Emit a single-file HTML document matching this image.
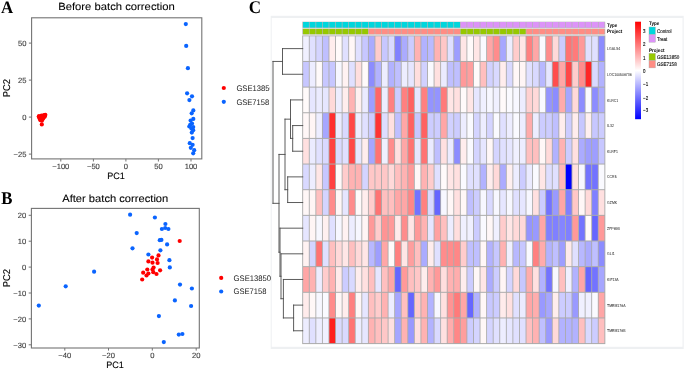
<!DOCTYPE html>
<html><head><meta charset="utf-8"><title>Batch correction figure</title>
<style>
html,body{margin:0;padding:0;background:#fff;}
body{width:685px;height:370px;overflow:hidden;}
svg{display:block;filter:blur(0.3px);}
text{text-rendering:geometricPrecision;}
</style></head>
<body>
<svg width="685" height="370" viewBox="0 0 685 370">
<rect width="685" height="370" fill="#fff"/>
<defs><clipPath id="clipA"><rect x="0" y="0" width="270.0" height="370"/></clipPath></defs>
<rect x="270.7" y="15.8" width="413.0" height="333.2" fill="#eef0f2"/>
<rect x="271.7" y="18.0" width="410.8" height="328.8" fill="#ffffff"/>
<text x="0.90" y="12.60" font-family='"Liberation Serif", serif' font-size="17.6" fill="#000" text-anchor="start" font-weight="bold" textLength="12.20" lengthAdjust="spacingAndGlyphs" >A</text>
<text x="58.20" y="10.40" font-family='"Liberation Sans", sans-serif' font-size="10.4" fill="#000" text-anchor="start" font-weight="normal" textLength="116.50" lengthAdjust="spacingAndGlyphs" stroke="#000" stroke-width="0.08">Before batch correction</text>
<rect x="31.6" y="17.8" width="170.20" height="141.10" fill="none" stroke="#737373" stroke-width="1.1"/>
<line x1="28.9" y1="43.1" x2="31.6" y2="43.1" stroke="#737373" stroke-width="1"/>
<text x="26.40" y="45.85" font-family='"Liberation Sans", sans-serif' font-size="7.6" fill="#3c3c3c" text-anchor="end" font-weight="normal"  stroke="#3c3c3c" stroke-width="0.12">50</text>
<line x1="28.9" y1="80.1" x2="31.6" y2="80.1" stroke="#737373" stroke-width="1"/>
<text x="26.40" y="82.85" font-family='"Liberation Sans", sans-serif' font-size="7.6" fill="#3c3c3c" text-anchor="end" font-weight="normal"  stroke="#3c3c3c" stroke-width="0.12">25</text>
<line x1="28.9" y1="117.1" x2="31.6" y2="117.1" stroke="#737373" stroke-width="1"/>
<text x="26.40" y="119.85" font-family='"Liberation Sans", sans-serif' font-size="7.6" fill="#3c3c3c" text-anchor="end" font-weight="normal"  stroke="#3c3c3c" stroke-width="0.12">0</text>
<line x1="28.9" y1="154.1" x2="31.6" y2="154.1" stroke="#737373" stroke-width="1"/>
<text x="26.40" y="156.85" font-family='"Liberation Sans", sans-serif' font-size="7.6" fill="#3c3c3c" text-anchor="end" font-weight="normal"  stroke="#3c3c3c" stroke-width="0.12">&#8722;25</text>
<line x1="60.8" y1="158.9" x2="60.8" y2="161.5" stroke="#737373" stroke-width="1"/>
<text x="60.80" y="169.00" font-family='"Liberation Sans", sans-serif' font-size="7.6" fill="#3c3c3c" text-anchor="middle" font-weight="normal"  stroke="#3c3c3c" stroke-width="0.12">&#8722;100</text>
<line x1="93.4" y1="158.9" x2="93.4" y2="161.5" stroke="#737373" stroke-width="1"/>
<text x="93.40" y="169.00" font-family='"Liberation Sans", sans-serif' font-size="7.6" fill="#3c3c3c" text-anchor="middle" font-weight="normal"  stroke="#3c3c3c" stroke-width="0.12">&#8722;50</text>
<line x1="125.9" y1="158.9" x2="125.9" y2="161.5" stroke="#737373" stroke-width="1"/>
<text x="125.90" y="169.00" font-family='"Liberation Sans", sans-serif' font-size="7.6" fill="#3c3c3c" text-anchor="middle" font-weight="normal"  stroke="#3c3c3c" stroke-width="0.12">0</text>
<line x1="158.4" y1="158.9" x2="158.4" y2="161.5" stroke="#737373" stroke-width="1"/>
<text x="158.40" y="169.00" font-family='"Liberation Sans", sans-serif' font-size="7.6" fill="#3c3c3c" text-anchor="middle" font-weight="normal"  stroke="#3c3c3c" stroke-width="0.12">50</text>
<line x1="191.0" y1="158.9" x2="191.0" y2="161.5" stroke="#737373" stroke-width="1"/>
<text x="191.00" y="169.00" font-family='"Liberation Sans", sans-serif' font-size="7.6" fill="#3c3c3c" text-anchor="middle" font-weight="normal"  stroke="#3c3c3c" stroke-width="0.12">100</text>
<text x="116.10" y="178.80" font-family='"Liberation Sans", sans-serif' font-size="9.2" fill="#000" text-anchor="middle" font-weight="normal" textLength="17.60" lengthAdjust="spacingAndGlyphs"  stroke="#000" stroke-width="0.12">PC1</text>
<text x="0" y="0" transform="translate(9.9,88.2) rotate(-90)" font-family='"Liberation Sans", sans-serif' font-size="9.9" fill="#000" stroke="#000" stroke-width="0.12" text-anchor="middle" textLength="18.2" lengthAdjust="spacingAndGlyphs">PC2</text>
<circle cx="39.0" cy="116.2" r="2.1" fill="#ff0000"/>
<circle cx="41.5" cy="115.6" r="2.1" fill="#ff0000"/>
<circle cx="44.0" cy="115.2" r="2.1" fill="#ff0000"/>
<circle cx="45.3" cy="114.8" r="2.1" fill="#ff0000"/>
<circle cx="44.6" cy="116.8" r="2.1" fill="#ff0000"/>
<circle cx="42.2" cy="117.4" r="2.1" fill="#ff0000"/>
<circle cx="39.6" cy="118.4" r="2.1" fill="#ff0000"/>
<circle cx="41.2" cy="119.4" r="2.1" fill="#ff0000"/>
<circle cx="43.2" cy="118.6" r="2.1" fill="#ff0000"/>
<circle cx="40.4" cy="120.2" r="2.1" fill="#ff0000"/>
<circle cx="42.0" cy="120.6" r="2.1" fill="#ff0000"/>
<circle cx="38.8" cy="116.8" r="2.1" fill="#ff0000"/>
<circle cx="41.8" cy="124.4" r="2.1" fill="#ff0000"/>
<circle cx="45.0" cy="115.8" r="2.1" fill="#ff0000"/>
<circle cx="43.0" cy="116.4" r="2.1" fill="#ff0000"/>
<circle cx="185.8" cy="24.1" r="2.1" fill="#0a64ff"/>
<circle cx="186.2" cy="45.9" r="2.1" fill="#0a64ff"/>
<circle cx="187.9" cy="68.2" r="2.1" fill="#0a64ff"/>
<circle cx="187.1" cy="93.3" r="2.1" fill="#0a64ff"/>
<circle cx="192.0" cy="96.3" r="2.1" fill="#0a64ff"/>
<circle cx="189.4" cy="100.1" r="2.1" fill="#0a64ff"/>
<circle cx="193.3" cy="110.4" r="2.1" fill="#0a64ff"/>
<circle cx="191.7" cy="113.3" r="2.1" fill="#0a64ff"/>
<circle cx="193.3" cy="118.9" r="2.1" fill="#0a64ff"/>
<circle cx="190.6" cy="120.6" r="2.1" fill="#0a64ff"/>
<circle cx="192.0" cy="123.5" r="2.1" fill="#0a64ff"/>
<circle cx="189.3" cy="126.5" r="2.1" fill="#0a64ff"/>
<circle cx="193.2" cy="127.1" r="2.1" fill="#0a64ff"/>
<circle cx="191.4" cy="128.6" r="2.1" fill="#0a64ff"/>
<circle cx="193.2" cy="130.2" r="2.1" fill="#0a64ff"/>
<circle cx="191.8" cy="132.6" r="2.1" fill="#0a64ff"/>
<circle cx="192.6" cy="138.1" r="2.1" fill="#0a64ff"/>
<circle cx="189.8" cy="143.2" r="2.1" fill="#0a64ff"/>
<circle cx="192.6" cy="144.8" r="2.1" fill="#0a64ff"/>
<circle cx="190.8" cy="147.8" r="2.1" fill="#0a64ff"/>
<circle cx="194.2" cy="150.2" r="2.1" fill="#0a64ff"/>
<circle cx="193.2" cy="153.3" r="2.1" fill="#0a64ff"/>
<circle cx="190.2" cy="124.8" r="2.1" fill="#0a64ff"/>
<circle cx="223.8" cy="88.0" r="2.1" fill="#ff0000"/>
<circle cx="223.8" cy="101.8" r="2.1" fill="#0a64ff"/>
<text x="236.40" y="90.90" font-family='"Liberation Sans", sans-serif' font-size="8.1" fill="#222" text-anchor="start" font-weight="normal" textLength="37.40" lengthAdjust="spacingAndGlyphs" clip-path="url(#clipA)">GSE13850</text>
<text x="236.40" y="104.70" font-family='"Liberation Sans", sans-serif' font-size="8.1" fill="#222" text-anchor="start" font-weight="normal" textLength="32.80" lengthAdjust="spacingAndGlyphs" >GSE7158</text>
<text x="1.15" y="203.60" font-family='"Liberation Serif", serif' font-size="17.8" fill="#000" text-anchor="start" font-weight="bold" textLength="11.20" lengthAdjust="spacingAndGlyphs" >B</text>
<text x="62.20" y="201.70" font-family='"Liberation Sans", sans-serif' font-size="10.4" fill="#000" text-anchor="start" font-weight="normal" textLength="106.10" lengthAdjust="spacingAndGlyphs" stroke="#000" stroke-width="0.08">After batch correction</text>
<rect x="31.4" y="208.4" width="167.90" height="139.60" fill="none" stroke="#737373" stroke-width="1.1"/>
<line x1="28.7" y1="215.3" x2="31.4" y2="215.3" stroke="#737373" stroke-width="1"/>
<text x="26.20" y="218.05" font-family='"Liberation Sans", sans-serif' font-size="7.6" fill="#3c3c3c" text-anchor="end" font-weight="normal"  stroke="#3c3c3c" stroke-width="0.12">20</text>
<line x1="28.7" y1="241.2" x2="31.4" y2="241.2" stroke="#737373" stroke-width="1"/>
<text x="26.20" y="243.95" font-family='"Liberation Sans", sans-serif' font-size="7.6" fill="#3c3c3c" text-anchor="end" font-weight="normal"  stroke="#3c3c3c" stroke-width="0.12">10</text>
<line x1="28.7" y1="267.1" x2="31.4" y2="267.1" stroke="#737373" stroke-width="1"/>
<text x="26.20" y="269.85" font-family='"Liberation Sans", sans-serif' font-size="7.6" fill="#3c3c3c" text-anchor="end" font-weight="normal"  stroke="#3c3c3c" stroke-width="0.12">0</text>
<line x1="28.7" y1="293.0" x2="31.4" y2="293.0" stroke="#737373" stroke-width="1"/>
<text x="26.20" y="295.75" font-family='"Liberation Sans", sans-serif' font-size="7.6" fill="#3c3c3c" text-anchor="end" font-weight="normal"  stroke="#3c3c3c" stroke-width="0.12">&#8722;10</text>
<line x1="28.7" y1="318.9" x2="31.4" y2="318.9" stroke="#737373" stroke-width="1"/>
<text x="26.20" y="321.65" font-family='"Liberation Sans", sans-serif' font-size="7.6" fill="#3c3c3c" text-anchor="end" font-weight="normal"  stroke="#3c3c3c" stroke-width="0.12">&#8722;20</text>
<line x1="28.7" y1="344.8" x2="31.4" y2="344.8" stroke="#737373" stroke-width="1"/>
<text x="26.20" y="347.55" font-family='"Liberation Sans", sans-serif' font-size="7.6" fill="#3c3c3c" text-anchor="end" font-weight="normal"  stroke="#3c3c3c" stroke-width="0.12">&#8722;30</text>
<line x1="64.8" y1="348.0" x2="64.8" y2="350.6" stroke="#737373" stroke-width="1"/>
<text x="64.80" y="358.10" font-family='"Liberation Sans", sans-serif' font-size="7.6" fill="#3c3c3c" text-anchor="middle" font-weight="normal"  stroke="#3c3c3c" stroke-width="0.12">&#8722;40</text>
<line x1="108.5" y1="348.0" x2="108.5" y2="350.6" stroke="#737373" stroke-width="1"/>
<text x="108.50" y="358.10" font-family='"Liberation Sans", sans-serif' font-size="7.6" fill="#3c3c3c" text-anchor="middle" font-weight="normal"  stroke="#3c3c3c" stroke-width="0.12">&#8722;20</text>
<line x1="152.3" y1="348.0" x2="152.3" y2="350.6" stroke="#737373" stroke-width="1"/>
<text x="152.30" y="358.10" font-family='"Liberation Sans", sans-serif' font-size="7.6" fill="#3c3c3c" text-anchor="middle" font-weight="normal"  stroke="#3c3c3c" stroke-width="0.12">0</text>
<line x1="196.2" y1="348.0" x2="196.2" y2="350.6" stroke="#737373" stroke-width="1"/>
<text x="196.20" y="358.10" font-family='"Liberation Sans", sans-serif' font-size="7.6" fill="#3c3c3c" text-anchor="middle" font-weight="normal"  stroke="#3c3c3c" stroke-width="0.12">20</text>
<text x="115.10" y="368.10" font-family='"Liberation Sans", sans-serif' font-size="9.2" fill="#000" text-anchor="middle" font-weight="normal" textLength="17.60" lengthAdjust="spacingAndGlyphs"  stroke="#000" stroke-width="0.12">PC1</text>
<text x="0" y="0" transform="translate(9.9,278.2) rotate(-90)" font-family='"Liberation Sans", sans-serif' font-size="9.9" fill="#000" stroke="#000" stroke-width="0.12" text-anchor="middle" textLength="18.2" lengthAdjust="spacingAndGlyphs">PC2</text>
<circle cx="179.7" cy="241.0" r="2.1" fill="#ff0000"/>
<circle cx="158.5" cy="255.4" r="2.1" fill="#ff0000"/>
<circle cx="152.1" cy="257.6" r="2.1" fill="#ff0000"/>
<circle cx="157.0" cy="259.4" r="2.1" fill="#ff0000"/>
<circle cx="148.4" cy="261.4" r="2.1" fill="#ff0000"/>
<circle cx="152.5" cy="262.7" r="2.1" fill="#ff0000"/>
<circle cx="157.6" cy="263.0" r="2.1" fill="#ff0000"/>
<circle cx="153.6" cy="267.5" r="2.1" fill="#ff0000"/>
<circle cx="147.3" cy="269.5" r="2.1" fill="#ff0000"/>
<circle cx="160.1" cy="270.3" r="2.1" fill="#ff0000"/>
<circle cx="152.5" cy="269.5" r="2.1" fill="#ff0000"/>
<circle cx="143.2" cy="272.7" r="2.1" fill="#ff0000"/>
<circle cx="148.4" cy="273.5" r="2.1" fill="#ff0000"/>
<circle cx="153.3" cy="272.2" r="2.1" fill="#ff0000"/>
<circle cx="156.5" cy="274.0" r="2.1" fill="#ff0000"/>
<circle cx="146.5" cy="275.5" r="2.1" fill="#ff0000"/>
<circle cx="142.2" cy="279.5" r="2.1" fill="#ff0000"/>
<circle cx="165.2" cy="228.0" r="2.1" fill="#0a64ff"/>
<circle cx="130.1" cy="214.7" r="2.1" fill="#0a64ff"/>
<circle cx="154.9" cy="217.5" r="2.1" fill="#0a64ff"/>
<circle cx="165.4" cy="224.0" r="2.1" fill="#0a64ff"/>
<circle cx="161.9" cy="229.0" r="2.1" fill="#0a64ff"/>
<circle cx="168.4" cy="229.0" r="2.1" fill="#0a64ff"/>
<circle cx="136.7" cy="233.1" r="2.1" fill="#0a64ff"/>
<circle cx="159.8" cy="240.2" r="2.1" fill="#0a64ff"/>
<circle cx="161.4" cy="239.9" r="2.1" fill="#0a64ff"/>
<circle cx="167.1" cy="244.4" r="2.1" fill="#0a64ff"/>
<circle cx="132.5" cy="248.3" r="2.1" fill="#0a64ff"/>
<circle cx="160.4" cy="250.3" r="2.1" fill="#0a64ff"/>
<circle cx="148.4" cy="254.5" r="2.1" fill="#0a64ff"/>
<circle cx="169.4" cy="260.2" r="2.1" fill="#0a64ff"/>
<circle cx="169.8" cy="267.4" r="2.1" fill="#0a64ff"/>
<circle cx="180.0" cy="284.6" r="2.1" fill="#0a64ff"/>
<circle cx="191.9" cy="288.5" r="2.1" fill="#0a64ff"/>
<circle cx="174.9" cy="300.4" r="2.1" fill="#0a64ff"/>
<circle cx="191.1" cy="306.0" r="2.1" fill="#0a64ff"/>
<circle cx="158.9" cy="316.1" r="2.1" fill="#0a64ff"/>
<circle cx="178.8" cy="334.6" r="2.1" fill="#0a64ff"/>
<circle cx="182.4" cy="334.0" r="2.1" fill="#0a64ff"/>
<circle cx="163.8" cy="342.1" r="2.1" fill="#0a64ff"/>
<circle cx="94.1" cy="271.7" r="2.1" fill="#0a64ff"/>
<circle cx="65.7" cy="286.3" r="2.1" fill="#0a64ff"/>
<circle cx="38.8" cy="305.6" r="2.1" fill="#0a64ff"/>
<circle cx="221.2" cy="277.9" r="2.1" fill="#ff0000"/>
<circle cx="221.2" cy="291.5" r="2.1" fill="#0a64ff"/>
<text x="233.60" y="280.80" font-family='"Liberation Sans", sans-serif' font-size="8.1" fill="#222" text-anchor="start" font-weight="normal" textLength="37.50" lengthAdjust="spacingAndGlyphs" >GSE13850</text>
<text x="233.60" y="294.40" font-family='"Liberation Sans", sans-serif' font-size="8.1" fill="#222" text-anchor="start" font-weight="normal" textLength="32.80" lengthAdjust="spacingAndGlyphs" >GSE7158</text>
<text x="248.80" y="12.90" font-family='"Liberation Serif", serif' font-size="17.9" fill="#000" text-anchor="start" font-weight="bold" textLength="12.30" lengthAdjust="spacingAndGlyphs" >C</text>
<rect x="302.20" y="35.40" width="303.13" height="308.70" fill="#ababab"/>
<rect x="302.30" y="21.7" width="302.93" height="6.2" fill="#b4b4b4"/>
<rect x="302.30" y="28.6" width="302.93" height="5.9" fill="#b4b4b4"/>
<rect x="302.30" y="27.9" width="302.93" height="0.7" fill="#d8d8d8"/>
<rect x="302.30" y="34.5" width="302.93" height="0.9" fill="#d8d8d8"/>
<rect x="303.05" y="22.0" width="5.87" height="5.60" fill="#00d6dc"/>
<rect x="303.05" y="28.9" width="5.87" height="5.30" fill="#96c800"/>
<rect x="309.62" y="22.0" width="5.87" height="5.60" fill="#00d6dc"/>
<rect x="309.62" y="28.9" width="5.87" height="5.30" fill="#96c800"/>
<rect x="316.19" y="22.0" width="5.87" height="5.60" fill="#00d6dc"/>
<rect x="316.19" y="28.9" width="5.87" height="5.30" fill="#96c800"/>
<rect x="322.75" y="22.0" width="5.87" height="5.60" fill="#00d6dc"/>
<rect x="322.75" y="28.9" width="5.87" height="5.30" fill="#96c800"/>
<rect x="329.32" y="22.0" width="5.87" height="5.60" fill="#00d6dc"/>
<rect x="329.32" y="28.9" width="5.87" height="5.30" fill="#96c800"/>
<rect x="335.89" y="22.0" width="5.87" height="5.60" fill="#00d6dc"/>
<rect x="335.89" y="28.9" width="5.87" height="5.30" fill="#96c800"/>
<rect x="342.46" y="22.0" width="5.87" height="5.60" fill="#00d6dc"/>
<rect x="342.46" y="28.9" width="5.87" height="5.30" fill="#96c800"/>
<rect x="349.03" y="22.0" width="5.87" height="5.60" fill="#00d6dc"/>
<rect x="349.03" y="28.9" width="5.87" height="5.30" fill="#96c800"/>
<rect x="355.59" y="22.0" width="5.87" height="5.60" fill="#00d6dc"/>
<rect x="355.59" y="28.9" width="5.87" height="5.30" fill="#96c800"/>
<rect x="362.16" y="22.0" width="5.87" height="5.60" fill="#00d6dc"/>
<rect x="362.16" y="28.9" width="5.87" height="5.30" fill="#96c800"/>
<rect x="368.73" y="22.0" width="5.87" height="5.60" fill="#00d6dc"/>
<rect x="368.73" y="28.9" width="5.87" height="5.30" fill="#ff8d84"/>
<rect x="375.30" y="22.0" width="5.87" height="5.60" fill="#00d6dc"/>
<rect x="375.30" y="28.9" width="5.87" height="5.30" fill="#ff8d84"/>
<rect x="381.87" y="22.0" width="5.87" height="5.60" fill="#00d6dc"/>
<rect x="381.87" y="28.9" width="5.87" height="5.30" fill="#ff8d84"/>
<rect x="388.43" y="22.0" width="5.87" height="5.60" fill="#00d6dc"/>
<rect x="388.43" y="28.9" width="5.87" height="5.30" fill="#ff8d84"/>
<rect x="395.00" y="22.0" width="5.87" height="5.60" fill="#00d6dc"/>
<rect x="395.00" y="28.9" width="5.87" height="5.30" fill="#ff8d84"/>
<rect x="401.57" y="22.0" width="5.87" height="5.60" fill="#00d6dc"/>
<rect x="401.57" y="28.9" width="5.87" height="5.30" fill="#ff8d84"/>
<rect x="408.14" y="22.0" width="5.87" height="5.60" fill="#00d6dc"/>
<rect x="408.14" y="28.9" width="5.87" height="5.30" fill="#ff8d84"/>
<rect x="414.71" y="22.0" width="5.87" height="5.60" fill="#00d6dc"/>
<rect x="414.71" y="28.9" width="5.87" height="5.30" fill="#ff8d84"/>
<rect x="421.27" y="22.0" width="5.87" height="5.60" fill="#00d6dc"/>
<rect x="421.27" y="28.9" width="5.87" height="5.30" fill="#ff8d84"/>
<rect x="427.84" y="22.0" width="5.87" height="5.60" fill="#00d6dc"/>
<rect x="427.84" y="28.9" width="5.87" height="5.30" fill="#ff8d84"/>
<rect x="434.41" y="22.0" width="5.87" height="5.60" fill="#00d6dc"/>
<rect x="434.41" y="28.9" width="5.87" height="5.30" fill="#ff8d84"/>
<rect x="440.98" y="22.0" width="5.87" height="5.60" fill="#00d6dc"/>
<rect x="440.98" y="28.9" width="5.87" height="5.30" fill="#ff8d84"/>
<rect x="447.55" y="22.0" width="5.87" height="5.60" fill="#00d6dc"/>
<rect x="447.55" y="28.9" width="5.87" height="5.30" fill="#ff8d84"/>
<rect x="454.11" y="22.0" width="5.87" height="5.60" fill="#00d6dc"/>
<rect x="454.11" y="28.9" width="5.87" height="5.30" fill="#ff8d84"/>
<rect x="460.68" y="22.0" width="5.87" height="5.60" fill="#dc93f8"/>
<rect x="460.68" y="28.9" width="5.87" height="5.30" fill="#96c800"/>
<rect x="467.25" y="22.0" width="5.87" height="5.60" fill="#dc93f8"/>
<rect x="467.25" y="28.9" width="5.87" height="5.30" fill="#96c800"/>
<rect x="473.82" y="22.0" width="5.87" height="5.60" fill="#dc93f8"/>
<rect x="473.82" y="28.9" width="5.87" height="5.30" fill="#96c800"/>
<rect x="480.39" y="22.0" width="5.87" height="5.60" fill="#dc93f8"/>
<rect x="480.39" y="28.9" width="5.87" height="5.30" fill="#96c800"/>
<rect x="486.95" y="22.0" width="5.87" height="5.60" fill="#dc93f8"/>
<rect x="486.95" y="28.9" width="5.87" height="5.30" fill="#96c800"/>
<rect x="493.52" y="22.0" width="5.87" height="5.60" fill="#dc93f8"/>
<rect x="493.52" y="28.9" width="5.87" height="5.30" fill="#96c800"/>
<rect x="500.09" y="22.0" width="5.87" height="5.60" fill="#dc93f8"/>
<rect x="500.09" y="28.9" width="5.87" height="5.30" fill="#96c800"/>
<rect x="506.66" y="22.0" width="5.87" height="5.60" fill="#dc93f8"/>
<rect x="506.66" y="28.9" width="5.87" height="5.30" fill="#96c800"/>
<rect x="513.23" y="22.0" width="5.87" height="5.60" fill="#dc93f8"/>
<rect x="513.23" y="28.9" width="5.87" height="5.30" fill="#96c800"/>
<rect x="519.79" y="22.0" width="5.87" height="5.60" fill="#dc93f8"/>
<rect x="519.79" y="28.9" width="5.87" height="5.30" fill="#96c800"/>
<rect x="526.36" y="22.0" width="5.87" height="5.60" fill="#dc93f8"/>
<rect x="526.36" y="28.9" width="5.87" height="5.30" fill="#ff8d84"/>
<rect x="532.93" y="22.0" width="5.87" height="5.60" fill="#dc93f8"/>
<rect x="532.93" y="28.9" width="5.87" height="5.30" fill="#ff8d84"/>
<rect x="539.50" y="22.0" width="5.87" height="5.60" fill="#dc93f8"/>
<rect x="539.50" y="28.9" width="5.87" height="5.30" fill="#ff8d84"/>
<rect x="546.07" y="22.0" width="5.87" height="5.60" fill="#dc93f8"/>
<rect x="546.07" y="28.9" width="5.87" height="5.30" fill="#ff8d84"/>
<rect x="552.63" y="22.0" width="5.87" height="5.60" fill="#dc93f8"/>
<rect x="552.63" y="28.9" width="5.87" height="5.30" fill="#ff8d84"/>
<rect x="559.20" y="22.0" width="5.87" height="5.60" fill="#dc93f8"/>
<rect x="559.20" y="28.9" width="5.87" height="5.30" fill="#ff8d84"/>
<rect x="565.77" y="22.0" width="5.87" height="5.60" fill="#dc93f8"/>
<rect x="565.77" y="28.9" width="5.87" height="5.30" fill="#ff8d84"/>
<rect x="572.34" y="22.0" width="5.87" height="5.60" fill="#dc93f8"/>
<rect x="572.34" y="28.9" width="5.87" height="5.30" fill="#ff8d84"/>
<rect x="578.91" y="22.0" width="5.87" height="5.60" fill="#dc93f8"/>
<rect x="578.91" y="28.9" width="5.87" height="5.30" fill="#ff8d84"/>
<rect x="585.47" y="22.0" width="5.87" height="5.60" fill="#dc93f8"/>
<rect x="585.47" y="28.9" width="5.87" height="5.30" fill="#ff8d84"/>
<rect x="592.04" y="22.0" width="5.87" height="5.60" fill="#dc93f8"/>
<rect x="592.04" y="28.9" width="5.87" height="5.30" fill="#ff8d84"/>
<rect x="598.61" y="22.0" width="5.87" height="5.60" fill="#dc93f8"/>
<rect x="598.61" y="28.9" width="5.87" height="5.30" fill="#ff8d84"/>
<rect x="303.15" y="36.30" width="5.67" height="24.65" fill="rgb(240,240,255)"/>
<rect x="309.72" y="36.30" width="5.67" height="24.65" fill="rgb(224,224,255)"/>
<rect x="316.29" y="36.30" width="5.67" height="24.65" fill="rgb(212,212,255)"/>
<rect x="322.85" y="36.30" width="5.67" height="24.65" fill="rgb(191,191,255)"/>
<rect x="329.42" y="36.30" width="5.67" height="24.65" fill="rgb(255,237,237)"/>
<rect x="335.99" y="36.30" width="5.67" height="24.65" fill="rgb(255,250,250)"/>
<rect x="342.56" y="36.30" width="5.67" height="24.65" fill="rgb(224,224,255)"/>
<rect x="349.13" y="36.30" width="5.67" height="24.65" fill="rgb(255,247,247)"/>
<rect x="355.69" y="36.30" width="5.67" height="24.65" fill="rgb(224,224,255)"/>
<rect x="362.26" y="36.30" width="5.67" height="24.65" fill="rgb(199,199,255)"/>
<rect x="368.83" y="36.30" width="5.67" height="24.65" fill="rgb(171,171,255)"/>
<rect x="375.40" y="36.30" width="5.67" height="24.65" fill="rgb(255,204,204)"/>
<rect x="381.97" y="36.30" width="5.67" height="24.65" fill="rgb(199,199,255)"/>
<rect x="388.53" y="36.30" width="5.67" height="24.65" fill="rgb(217,217,255)"/>
<rect x="395.10" y="36.30" width="5.67" height="24.65" fill="rgb(128,128,255)"/>
<rect x="401.67" y="36.30" width="5.67" height="24.65" fill="rgb(171,171,255)"/>
<rect x="408.24" y="36.30" width="5.67" height="24.65" fill="rgb(204,204,255)"/>
<rect x="414.81" y="36.30" width="5.67" height="24.65" fill="rgb(255,178,178)"/>
<rect x="421.37" y="36.30" width="5.67" height="24.65" fill="rgb(178,178,255)"/>
<rect x="427.94" y="36.30" width="5.67" height="24.65" fill="rgb(186,186,255)"/>
<rect x="434.51" y="36.30" width="5.67" height="24.65" fill="rgb(255,178,178)"/>
<rect x="441.08" y="36.30" width="5.67" height="24.65" fill="rgb(255,199,199)"/>
<rect x="447.65" y="36.30" width="5.67" height="24.65" fill="rgb(224,224,255)"/>
<rect x="454.21" y="36.30" width="5.67" height="24.65" fill="rgb(158,158,255)"/>
<rect x="460.78" y="36.30" width="5.67" height="24.65" fill="rgb(255,230,230)"/>
<rect x="467.35" y="36.30" width="5.67" height="24.65" fill="rgb(255,250,250)"/>
<rect x="473.92" y="36.30" width="5.67" height="24.65" fill="rgb(255,230,230)"/>
<rect x="480.49" y="36.30" width="5.67" height="24.65" fill="rgb(250,250,255)"/>
<rect x="487.05" y="36.30" width="5.67" height="24.65" fill="rgb(255,166,166)"/>
<rect x="493.62" y="36.30" width="5.67" height="24.65" fill="rgb(255,140,140)"/>
<rect x="500.19" y="36.30" width="5.67" height="24.65" fill="rgb(166,166,255)"/>
<rect x="506.76" y="36.30" width="5.67" height="24.65" fill="rgb(237,237,255)"/>
<rect x="513.33" y="36.30" width="5.67" height="24.65" fill="rgb(255,204,204)"/>
<rect x="519.89" y="36.30" width="5.67" height="24.65" fill="rgb(255,230,230)"/>
<rect x="526.46" y="36.30" width="5.67" height="24.65" fill="rgb(255,128,128)"/>
<rect x="533.03" y="36.30" width="5.67" height="24.65" fill="rgb(255,166,166)"/>
<rect x="539.60" y="36.30" width="5.67" height="24.65" fill="rgb(250,250,255)"/>
<rect x="546.17" y="36.30" width="5.67" height="24.65" fill="rgb(255,140,140)"/>
<rect x="552.73" y="36.30" width="5.67" height="24.65" fill="rgb(255,217,217)"/>
<rect x="559.30" y="36.30" width="5.67" height="24.65" fill="rgb(204,204,255)"/>
<rect x="565.87" y="36.30" width="5.67" height="24.65" fill="rgb(255,115,115)"/>
<rect x="572.44" y="36.30" width="5.67" height="24.65" fill="rgb(255,122,122)"/>
<rect x="579.01" y="36.30" width="5.67" height="24.65" fill="rgb(255,153,153)"/>
<rect x="585.57" y="36.30" width="5.67" height="24.65" fill="rgb(224,224,255)"/>
<rect x="592.14" y="36.30" width="5.67" height="24.65" fill="rgb(224,224,255)"/>
<rect x="598.71" y="36.30" width="5.67" height="24.65" fill="rgb(140,140,255)"/>
<rect x="303.15" y="61.95" width="5.67" height="24.65" fill="rgb(199,199,255)"/>
<rect x="309.72" y="61.95" width="5.67" height="24.65" fill="rgb(237,237,255)"/>
<rect x="316.29" y="61.95" width="5.67" height="24.65" fill="rgb(255,250,250)"/>
<rect x="322.85" y="61.95" width="5.67" height="24.65" fill="rgb(199,199,255)"/>
<rect x="329.42" y="61.95" width="5.67" height="24.65" fill="rgb(199,199,255)"/>
<rect x="335.99" y="61.95" width="5.67" height="24.65" fill="rgb(247,247,255)"/>
<rect x="342.56" y="61.95" width="5.67" height="24.65" fill="rgb(255,242,242)"/>
<rect x="349.13" y="61.95" width="5.67" height="24.65" fill="rgb(224,224,255)"/>
<rect x="355.69" y="61.95" width="5.67" height="24.65" fill="rgb(255,222,222)"/>
<rect x="362.26" y="61.95" width="5.67" height="24.65" fill="rgb(255,250,250)"/>
<rect x="368.83" y="61.95" width="5.67" height="24.65" fill="rgb(140,140,255)"/>
<rect x="375.40" y="61.95" width="5.67" height="24.65" fill="rgb(178,178,255)"/>
<rect x="381.97" y="61.95" width="5.67" height="24.65" fill="rgb(237,237,255)"/>
<rect x="388.53" y="61.95" width="5.67" height="24.65" fill="rgb(178,178,255)"/>
<rect x="395.10" y="61.95" width="5.67" height="24.65" fill="rgb(191,191,255)"/>
<rect x="401.67" y="61.95" width="5.67" height="24.65" fill="rgb(237,237,255)"/>
<rect x="408.24" y="61.95" width="5.67" height="24.65" fill="rgb(230,230,255)"/>
<rect x="414.81" y="61.95" width="5.67" height="24.65" fill="rgb(255,222,222)"/>
<rect x="421.37" y="61.95" width="5.67" height="24.65" fill="rgb(209,209,255)"/>
<rect x="427.94" y="61.95" width="5.67" height="24.65" fill="rgb(250,250,255)"/>
<rect x="434.51" y="61.95" width="5.67" height="24.65" fill="rgb(255,224,224)"/>
<rect x="441.08" y="61.95" width="5.67" height="24.65" fill="rgb(235,235,255)"/>
<rect x="447.65" y="61.95" width="5.67" height="24.65" fill="rgb(191,191,255)"/>
<rect x="454.21" y="61.95" width="5.67" height="24.65" fill="rgb(191,191,255)"/>
<rect x="460.78" y="61.95" width="5.67" height="24.65" fill="rgb(255,153,153)"/>
<rect x="467.35" y="61.95" width="5.67" height="24.65" fill="rgb(255,158,158)"/>
<rect x="473.92" y="61.95" width="5.67" height="24.65" fill="rgb(255,250,250)"/>
<rect x="480.49" y="61.95" width="5.67" height="24.65" fill="rgb(255,191,191)"/>
<rect x="487.05" y="61.95" width="5.67" height="24.65" fill="rgb(209,209,255)"/>
<rect x="493.62" y="61.95" width="5.67" height="24.65" fill="rgb(217,217,255)"/>
<rect x="500.19" y="61.95" width="5.67" height="24.65" fill="rgb(255,237,237)"/>
<rect x="506.76" y="61.95" width="5.67" height="24.65" fill="rgb(217,217,255)"/>
<rect x="513.33" y="61.95" width="5.67" height="24.65" fill="rgb(255,247,247)"/>
<rect x="519.89" y="61.95" width="5.67" height="24.65" fill="rgb(255,245,245)"/>
<rect x="526.46" y="61.95" width="5.67" height="24.65" fill="rgb(224,224,255)"/>
<rect x="533.03" y="61.95" width="5.67" height="24.65" fill="rgb(217,217,255)"/>
<rect x="539.60" y="61.95" width="5.67" height="24.65" fill="rgb(184,184,255)"/>
<rect x="546.17" y="61.95" width="5.67" height="24.65" fill="rgb(230,230,255)"/>
<rect x="552.73" y="61.95" width="5.67" height="24.65" fill="rgb(255,77,77)"/>
<rect x="559.30" y="61.95" width="5.67" height="24.65" fill="rgb(255,166,166)"/>
<rect x="565.87" y="61.95" width="5.67" height="24.65" fill="rgb(255,71,71)"/>
<rect x="572.44" y="61.95" width="5.67" height="24.65" fill="rgb(255,204,204)"/>
<rect x="579.01" y="61.95" width="5.67" height="24.65" fill="rgb(255,140,140)"/>
<rect x="585.57" y="61.95" width="5.67" height="24.65" fill="rgb(255,38,38)"/>
<rect x="592.14" y="61.95" width="5.67" height="24.65" fill="rgb(217,217,255)"/>
<rect x="598.71" y="61.95" width="5.67" height="24.65" fill="rgb(178,178,255)"/>
<rect x="303.15" y="87.60" width="5.67" height="24.65" fill="rgb(255,250,250)"/>
<rect x="309.72" y="87.60" width="5.67" height="24.65" fill="rgb(230,230,255)"/>
<rect x="316.29" y="87.60" width="5.67" height="24.65" fill="rgb(235,235,255)"/>
<rect x="322.85" y="87.60" width="5.67" height="24.65" fill="rgb(230,230,255)"/>
<rect x="329.42" y="87.60" width="5.67" height="24.65" fill="rgb(255,217,217)"/>
<rect x="335.99" y="87.60" width="5.67" height="24.65" fill="rgb(237,237,255)"/>
<rect x="342.56" y="87.60" width="5.67" height="24.65" fill="rgb(255,237,237)"/>
<rect x="349.13" y="87.60" width="5.67" height="24.65" fill="rgb(255,178,178)"/>
<rect x="355.69" y="87.60" width="5.67" height="24.65" fill="rgb(255,240,240)"/>
<rect x="362.26" y="87.60" width="5.67" height="24.65" fill="rgb(235,235,255)"/>
<rect x="368.83" y="87.60" width="5.67" height="24.65" fill="rgb(158,158,255)"/>
<rect x="375.40" y="87.60" width="5.67" height="24.65" fill="rgb(255,102,102)"/>
<rect x="381.97" y="87.60" width="5.67" height="24.65" fill="rgb(237,237,255)"/>
<rect x="388.53" y="87.60" width="5.67" height="24.65" fill="rgb(255,128,128)"/>
<rect x="395.10" y="87.60" width="5.67" height="24.65" fill="rgb(204,204,255)"/>
<rect x="401.67" y="87.60" width="5.67" height="24.65" fill="rgb(255,128,128)"/>
<rect x="408.24" y="87.60" width="5.67" height="24.65" fill="rgb(255,97,97)"/>
<rect x="414.81" y="87.60" width="5.67" height="24.65" fill="rgb(230,230,255)"/>
<rect x="421.37" y="87.60" width="5.67" height="24.65" fill="rgb(255,128,128)"/>
<rect x="427.94" y="87.60" width="5.67" height="24.65" fill="rgb(148,148,255)"/>
<rect x="434.51" y="87.60" width="5.67" height="24.65" fill="rgb(148,148,255)"/>
<rect x="441.08" y="87.60" width="5.67" height="24.65" fill="rgb(255,122,122)"/>
<rect x="447.65" y="87.60" width="5.67" height="24.65" fill="rgb(255,230,230)"/>
<rect x="454.21" y="87.60" width="5.67" height="24.65" fill="rgb(255,224,224)"/>
<rect x="460.78" y="87.60" width="5.67" height="24.65" fill="rgb(255,250,250)"/>
<rect x="467.35" y="87.60" width="5.67" height="24.65" fill="rgb(255,230,230)"/>
<rect x="473.92" y="87.60" width="5.67" height="24.65" fill="rgb(230,230,255)"/>
<rect x="480.49" y="87.60" width="5.67" height="24.65" fill="rgb(240,240,255)"/>
<rect x="487.05" y="87.60" width="5.67" height="24.65" fill="rgb(247,247,255)"/>
<rect x="493.62" y="87.60" width="5.67" height="24.65" fill="rgb(240,240,255)"/>
<rect x="500.19" y="87.60" width="5.67" height="24.65" fill="rgb(255,250,250)"/>
<rect x="506.76" y="87.60" width="5.67" height="24.65" fill="rgb(250,250,255)"/>
<rect x="513.33" y="87.60" width="5.67" height="24.65" fill="rgb(247,247,255)"/>
<rect x="519.89" y="87.60" width="5.67" height="24.65" fill="rgb(237,237,255)"/>
<rect x="526.46" y="87.60" width="5.67" height="24.65" fill="rgb(255,209,209)"/>
<rect x="533.03" y="87.60" width="5.67" height="24.65" fill="rgb(255,217,217)"/>
<rect x="539.60" y="87.60" width="5.67" height="24.65" fill="rgb(250,250,255)"/>
<rect x="546.17" y="87.60" width="5.67" height="24.65" fill="rgb(148,148,255)"/>
<rect x="552.73" y="87.60" width="5.67" height="24.65" fill="rgb(140,140,255)"/>
<rect x="559.30" y="87.60" width="5.67" height="24.65" fill="rgb(255,171,171)"/>
<rect x="565.87" y="87.60" width="5.67" height="24.65" fill="rgb(166,166,255)"/>
<rect x="572.44" y="87.60" width="5.67" height="24.65" fill="rgb(255,217,217)"/>
<rect x="579.01" y="87.60" width="5.67" height="24.65" fill="rgb(140,140,255)"/>
<rect x="585.57" y="87.60" width="5.67" height="24.65" fill="rgb(250,250,255)"/>
<rect x="592.14" y="87.60" width="5.67" height="24.65" fill="rgb(140,140,255)"/>
<rect x="598.71" y="87.60" width="5.67" height="24.65" fill="rgb(171,171,255)"/>
<rect x="303.15" y="113.25" width="5.67" height="24.65" fill="rgb(255,247,247)"/>
<rect x="309.72" y="113.25" width="5.67" height="24.65" fill="rgb(255,245,245)"/>
<rect x="316.29" y="113.25" width="5.67" height="24.65" fill="rgb(237,237,255)"/>
<rect x="322.85" y="113.25" width="5.67" height="24.65" fill="rgb(166,166,255)"/>
<rect x="329.42" y="113.25" width="5.67" height="24.65" fill="rgb(255,46,46)"/>
<rect x="335.99" y="113.25" width="5.67" height="24.65" fill="rgb(235,235,255)"/>
<rect x="342.56" y="113.25" width="5.67" height="24.65" fill="rgb(217,217,255)"/>
<rect x="349.13" y="113.25" width="5.67" height="24.65" fill="rgb(255,71,71)"/>
<rect x="355.69" y="113.25" width="5.67" height="24.65" fill="rgb(237,237,255)"/>
<rect x="362.26" y="113.25" width="5.67" height="24.65" fill="rgb(224,224,255)"/>
<rect x="368.83" y="113.25" width="5.67" height="24.65" fill="rgb(204,204,255)"/>
<rect x="375.40" y="113.25" width="5.67" height="24.65" fill="rgb(255,51,51)"/>
<rect x="381.97" y="113.25" width="5.67" height="24.65" fill="rgb(222,222,255)"/>
<rect x="388.53" y="113.25" width="5.67" height="24.65" fill="rgb(255,224,224)"/>
<rect x="395.10" y="113.25" width="5.67" height="24.65" fill="rgb(191,191,255)"/>
<rect x="401.67" y="113.25" width="5.67" height="24.65" fill="rgb(255,166,166)"/>
<rect x="408.24" y="113.25" width="5.67" height="24.65" fill="rgb(255,97,97)"/>
<rect x="414.81" y="113.25" width="5.67" height="24.65" fill="rgb(199,199,255)"/>
<rect x="421.37" y="113.25" width="5.67" height="24.65" fill="rgb(255,97,97)"/>
<rect x="427.94" y="113.25" width="5.67" height="24.65" fill="rgb(204,204,255)"/>
<rect x="434.51" y="113.25" width="5.67" height="24.65" fill="rgb(204,204,255)"/>
<rect x="441.08" y="113.25" width="5.67" height="24.65" fill="rgb(255,166,166)"/>
<rect x="447.65" y="113.25" width="5.67" height="24.65" fill="rgb(209,209,255)"/>
<rect x="454.21" y="113.25" width="5.67" height="24.65" fill="rgb(204,204,255)"/>
<rect x="460.78" y="113.25" width="5.67" height="24.65" fill="rgb(237,237,255)"/>
<rect x="467.35" y="113.25" width="5.67" height="24.65" fill="rgb(250,250,255)"/>
<rect x="473.92" y="113.25" width="5.67" height="24.65" fill="rgb(212,212,255)"/>
<rect x="480.49" y="113.25" width="5.67" height="24.65" fill="rgb(237,237,255)"/>
<rect x="487.05" y="113.25" width="5.67" height="24.65" fill="rgb(212,212,255)"/>
<rect x="493.62" y="113.25" width="5.67" height="24.65" fill="rgb(250,250,255)"/>
<rect x="500.19" y="113.25" width="5.67" height="24.65" fill="rgb(224,224,255)"/>
<rect x="506.76" y="113.25" width="5.67" height="24.65" fill="rgb(237,237,255)"/>
<rect x="513.33" y="113.25" width="5.67" height="24.65" fill="rgb(250,250,255)"/>
<rect x="519.89" y="113.25" width="5.67" height="24.65" fill="rgb(237,237,255)"/>
<rect x="526.46" y="113.25" width="5.67" height="24.65" fill="rgb(255,171,171)"/>
<rect x="533.03" y="113.25" width="5.67" height="24.65" fill="rgb(237,237,255)"/>
<rect x="539.60" y="113.25" width="5.67" height="24.65" fill="rgb(204,204,255)"/>
<rect x="546.17" y="113.25" width="5.67" height="24.65" fill="rgb(204,204,255)"/>
<rect x="552.73" y="113.25" width="5.67" height="24.65" fill="rgb(191,191,255)"/>
<rect x="559.30" y="113.25" width="5.67" height="24.65" fill="rgb(255,237,237)"/>
<rect x="565.87" y="113.25" width="5.67" height="24.65" fill="rgb(204,204,255)"/>
<rect x="572.44" y="113.25" width="5.67" height="24.65" fill="rgb(255,237,237)"/>
<rect x="579.01" y="113.25" width="5.67" height="24.65" fill="rgb(199,199,255)"/>
<rect x="585.57" y="113.25" width="5.67" height="24.65" fill="rgb(255,240,240)"/>
<rect x="592.14" y="113.25" width="5.67" height="24.65" fill="rgb(199,199,255)"/>
<rect x="598.71" y="113.25" width="5.67" height="24.65" fill="rgb(204,204,255)"/>
<rect x="303.15" y="138.90" width="5.67" height="24.65" fill="rgb(255,224,224)"/>
<rect x="309.72" y="138.90" width="5.67" height="24.65" fill="rgb(235,235,255)"/>
<rect x="316.29" y="138.90" width="5.67" height="24.65" fill="rgb(224,224,255)"/>
<rect x="322.85" y="138.90" width="5.67" height="24.65" fill="rgb(217,217,255)"/>
<rect x="329.42" y="138.90" width="5.67" height="24.65" fill="rgb(255,64,64)"/>
<rect x="335.99" y="138.90" width="5.67" height="24.65" fill="rgb(217,217,255)"/>
<rect x="342.56" y="138.90" width="5.67" height="24.65" fill="rgb(224,224,255)"/>
<rect x="349.13" y="138.90" width="5.67" height="24.65" fill="rgb(255,71,71)"/>
<rect x="355.69" y="138.90" width="5.67" height="24.65" fill="rgb(230,230,255)"/>
<rect x="362.26" y="138.90" width="5.67" height="24.65" fill="rgb(255,237,237)"/>
<rect x="368.83" y="138.90" width="5.67" height="24.65" fill="rgb(166,166,255)"/>
<rect x="375.40" y="138.90" width="5.67" height="24.65" fill="rgb(255,115,115)"/>
<rect x="381.97" y="138.90" width="5.67" height="24.65" fill="rgb(240,240,255)"/>
<rect x="388.53" y="138.90" width="5.67" height="24.65" fill="rgb(255,140,140)"/>
<rect x="395.10" y="138.90" width="5.67" height="24.65" fill="rgb(255,224,224)"/>
<rect x="401.67" y="138.90" width="5.67" height="24.65" fill="rgb(255,166,166)"/>
<rect x="408.24" y="138.90" width="5.67" height="24.65" fill="rgb(255,115,115)"/>
<rect x="414.81" y="138.90" width="5.67" height="24.65" fill="rgb(230,230,255)"/>
<rect x="421.37" y="138.90" width="5.67" height="24.65" fill="rgb(255,115,115)"/>
<rect x="427.94" y="138.90" width="5.67" height="24.65" fill="rgb(235,235,255)"/>
<rect x="434.51" y="138.90" width="5.67" height="24.65" fill="rgb(191,191,255)"/>
<rect x="441.08" y="138.90" width="5.67" height="24.65" fill="rgb(255,224,224)"/>
<rect x="447.65" y="138.90" width="5.67" height="24.65" fill="rgb(235,235,255)"/>
<rect x="454.21" y="138.90" width="5.67" height="24.65" fill="rgb(140,140,255)"/>
<rect x="460.78" y="138.90" width="5.67" height="24.65" fill="rgb(255,237,237)"/>
<rect x="467.35" y="138.90" width="5.67" height="24.65" fill="rgb(250,250,255)"/>
<rect x="473.92" y="138.90" width="5.67" height="24.65" fill="rgb(212,212,255)"/>
<rect x="480.49" y="138.90" width="5.67" height="24.65" fill="rgb(230,230,255)"/>
<rect x="487.05" y="138.90" width="5.67" height="24.65" fill="rgb(255,247,247)"/>
<rect x="493.62" y="138.90" width="5.67" height="24.65" fill="rgb(212,212,255)"/>
<rect x="500.19" y="138.90" width="5.67" height="24.65" fill="rgb(224,224,255)"/>
<rect x="506.76" y="138.90" width="5.67" height="24.65" fill="rgb(230,230,255)"/>
<rect x="513.33" y="138.90" width="5.67" height="24.65" fill="rgb(240,240,255)"/>
<rect x="519.89" y="138.90" width="5.67" height="24.65" fill="rgb(237,237,255)"/>
<rect x="526.46" y="138.90" width="5.67" height="24.65" fill="rgb(255,191,191)"/>
<rect x="533.03" y="138.90" width="5.67" height="24.65" fill="rgb(255,191,191)"/>
<rect x="539.60" y="138.90" width="5.67" height="24.65" fill="rgb(255,247,247)"/>
<rect x="546.17" y="138.90" width="5.67" height="24.65" fill="rgb(255,217,217)"/>
<rect x="552.73" y="138.90" width="5.67" height="24.65" fill="rgb(178,178,255)"/>
<rect x="559.30" y="138.90" width="5.67" height="24.65" fill="rgb(255,178,178)"/>
<rect x="565.87" y="138.90" width="5.67" height="24.65" fill="rgb(204,204,255)"/>
<rect x="572.44" y="138.90" width="5.67" height="24.65" fill="rgb(255,224,224)"/>
<rect x="579.01" y="138.90" width="5.67" height="24.65" fill="rgb(171,171,255)"/>
<rect x="585.57" y="138.90" width="5.67" height="24.65" fill="rgb(158,158,255)"/>
<rect x="592.14" y="138.90" width="5.67" height="24.65" fill="rgb(158,158,255)"/>
<rect x="598.71" y="138.90" width="5.67" height="24.65" fill="rgb(199,199,255)"/>
<rect x="303.15" y="164.55" width="5.67" height="24.65" fill="rgb(217,217,255)"/>
<rect x="309.72" y="164.55" width="5.67" height="24.65" fill="rgb(237,237,255)"/>
<rect x="316.29" y="164.55" width="5.67" height="24.65" fill="rgb(255,230,230)"/>
<rect x="322.85" y="164.55" width="5.67" height="24.65" fill="rgb(199,199,255)"/>
<rect x="329.42" y="164.55" width="5.67" height="24.65" fill="rgb(255,64,64)"/>
<rect x="335.99" y="164.55" width="5.67" height="24.65" fill="rgb(255,250,250)"/>
<rect x="342.56" y="164.55" width="5.67" height="24.65" fill="rgb(255,204,204)"/>
<rect x="349.13" y="164.55" width="5.67" height="24.65" fill="rgb(255,178,178)"/>
<rect x="355.69" y="164.55" width="5.67" height="24.65" fill="rgb(255,178,178)"/>
<rect x="362.26" y="164.55" width="5.67" height="24.65" fill="rgb(212,212,255)"/>
<rect x="368.83" y="164.55" width="5.67" height="24.65" fill="rgb(255,199,199)"/>
<rect x="375.40" y="164.55" width="5.67" height="24.65" fill="rgb(255,199,199)"/>
<rect x="381.97" y="164.55" width="5.67" height="24.65" fill="rgb(255,199,199)"/>
<rect x="388.53" y="164.55" width="5.67" height="24.65" fill="rgb(255,217,217)"/>
<rect x="395.10" y="164.55" width="5.67" height="24.65" fill="rgb(255,191,191)"/>
<rect x="401.67" y="164.55" width="5.67" height="24.65" fill="rgb(255,178,178)"/>
<rect x="408.24" y="164.55" width="5.67" height="24.65" fill="rgb(255,153,153)"/>
<rect x="414.81" y="164.55" width="5.67" height="24.65" fill="rgb(255,247,247)"/>
<rect x="421.37" y="164.55" width="5.67" height="24.65" fill="rgb(255,178,178)"/>
<rect x="427.94" y="164.55" width="5.67" height="24.65" fill="rgb(255,204,204)"/>
<rect x="434.51" y="164.55" width="5.67" height="24.65" fill="rgb(224,224,255)"/>
<rect x="441.08" y="164.55" width="5.67" height="24.65" fill="rgb(255,250,250)"/>
<rect x="447.65" y="164.55" width="5.67" height="24.65" fill="rgb(255,230,230)"/>
<rect x="454.21" y="164.55" width="5.67" height="24.65" fill="rgb(255,224,224)"/>
<rect x="460.78" y="164.55" width="5.67" height="24.65" fill="rgb(250,250,255)"/>
<rect x="467.35" y="164.55" width="5.67" height="24.65" fill="rgb(224,224,255)"/>
<rect x="473.92" y="164.55" width="5.67" height="24.65" fill="rgb(224,224,255)"/>
<rect x="480.49" y="164.55" width="5.67" height="24.65" fill="rgb(178,178,255)"/>
<rect x="487.05" y="164.55" width="5.67" height="24.65" fill="rgb(255,237,237)"/>
<rect x="493.62" y="164.55" width="5.67" height="24.65" fill="rgb(255,217,217)"/>
<rect x="500.19" y="164.55" width="5.67" height="24.65" fill="rgb(171,171,255)"/>
<rect x="506.76" y="164.55" width="5.67" height="24.65" fill="rgb(255,240,240)"/>
<rect x="513.33" y="164.55" width="5.67" height="24.65" fill="rgb(237,237,255)"/>
<rect x="519.89" y="164.55" width="5.67" height="24.65" fill="rgb(204,204,255)"/>
<rect x="526.46" y="164.55" width="5.67" height="24.65" fill="rgb(235,235,255)"/>
<rect x="533.03" y="164.55" width="5.67" height="24.65" fill="rgb(250,250,255)"/>
<rect x="539.60" y="164.55" width="5.67" height="24.65" fill="rgb(255,230,230)"/>
<rect x="546.17" y="164.55" width="5.67" height="24.65" fill="rgb(222,222,255)"/>
<rect x="552.73" y="164.55" width="5.67" height="24.65" fill="rgb(224,224,255)"/>
<rect x="559.30" y="164.55" width="5.67" height="24.65" fill="rgb(255,184,184)"/>
<rect x="565.87" y="164.55" width="5.67" height="24.65" fill="rgb(0,0,255)"/>
<rect x="572.44" y="164.55" width="5.67" height="24.65" fill="rgb(255,224,224)"/>
<rect x="579.01" y="164.55" width="5.67" height="24.65" fill="rgb(247,247,255)"/>
<rect x="585.57" y="164.55" width="5.67" height="24.65" fill="rgb(115,115,255)"/>
<rect x="592.14" y="164.55" width="5.67" height="24.65" fill="rgb(115,115,255)"/>
<rect x="598.71" y="164.55" width="5.67" height="24.65" fill="rgb(250,250,255)"/>
<rect x="303.15" y="190.20" width="5.67" height="24.65" fill="rgb(255,247,247)"/>
<rect x="309.72" y="190.20" width="5.67" height="24.65" fill="rgb(255,245,245)"/>
<rect x="316.29" y="190.20" width="5.67" height="24.65" fill="rgb(255,191,191)"/>
<rect x="322.85" y="190.20" width="5.67" height="24.65" fill="rgb(212,212,255)"/>
<rect x="329.42" y="190.20" width="5.67" height="24.65" fill="rgb(255,140,140)"/>
<rect x="335.99" y="190.20" width="5.67" height="24.65" fill="rgb(255,247,247)"/>
<rect x="342.56" y="190.20" width="5.67" height="24.65" fill="rgb(230,230,255)"/>
<rect x="349.13" y="190.20" width="5.67" height="24.65" fill="rgb(255,140,140)"/>
<rect x="355.69" y="190.20" width="5.67" height="24.65" fill="rgb(255,250,250)"/>
<rect x="362.26" y="190.20" width="5.67" height="24.65" fill="rgb(255,237,237)"/>
<rect x="368.83" y="190.20" width="5.67" height="24.65" fill="rgb(255,204,204)"/>
<rect x="375.40" y="190.20" width="5.67" height="24.65" fill="rgb(255,115,115)"/>
<rect x="381.97" y="190.20" width="5.67" height="24.65" fill="rgb(255,191,191)"/>
<rect x="388.53" y="190.20" width="5.67" height="24.65" fill="rgb(255,191,191)"/>
<rect x="395.10" y="190.20" width="5.67" height="24.65" fill="rgb(255,166,166)"/>
<rect x="401.67" y="190.20" width="5.67" height="24.65" fill="rgb(255,166,166)"/>
<rect x="408.24" y="190.20" width="5.67" height="24.65" fill="rgb(255,135,135)"/>
<rect x="414.81" y="190.20" width="5.67" height="24.65" fill="rgb(115,115,255)"/>
<rect x="421.37" y="190.20" width="5.67" height="24.65" fill="rgb(255,128,128)"/>
<rect x="427.94" y="190.20" width="5.67" height="24.65" fill="rgb(217,217,255)"/>
<rect x="434.51" y="190.20" width="5.67" height="24.65" fill="rgb(102,102,255)"/>
<rect x="441.08" y="190.20" width="5.67" height="24.65" fill="rgb(247,247,255)"/>
<rect x="447.65" y="190.20" width="5.67" height="24.65" fill="rgb(255,247,247)"/>
<rect x="454.21" y="190.20" width="5.67" height="24.65" fill="rgb(255,224,224)"/>
<rect x="460.78" y="190.20" width="5.67" height="24.65" fill="rgb(255,247,247)"/>
<rect x="467.35" y="190.20" width="5.67" height="24.65" fill="rgb(191,191,255)"/>
<rect x="473.92" y="190.20" width="5.67" height="24.65" fill="rgb(204,204,255)"/>
<rect x="480.49" y="190.20" width="5.67" height="24.65" fill="rgb(247,247,255)"/>
<rect x="487.05" y="190.20" width="5.67" height="24.65" fill="rgb(217,217,255)"/>
<rect x="493.62" y="190.20" width="5.67" height="24.65" fill="rgb(247,247,255)"/>
<rect x="500.19" y="190.20" width="5.67" height="24.65" fill="rgb(230,230,255)"/>
<rect x="506.76" y="190.20" width="5.67" height="24.65" fill="rgb(247,247,255)"/>
<rect x="513.33" y="190.20" width="5.67" height="24.65" fill="rgb(224,224,255)"/>
<rect x="519.89" y="190.20" width="5.67" height="24.65" fill="rgb(230,230,255)"/>
<rect x="526.46" y="190.20" width="5.67" height="24.65" fill="rgb(247,247,255)"/>
<rect x="533.03" y="190.20" width="5.67" height="24.65" fill="rgb(255,224,224)"/>
<rect x="539.60" y="190.20" width="5.67" height="24.65" fill="rgb(204,204,255)"/>
<rect x="546.17" y="190.20" width="5.67" height="24.65" fill="rgb(115,115,255)"/>
<rect x="552.73" y="190.20" width="5.67" height="24.65" fill="rgb(153,153,255)"/>
<rect x="559.30" y="190.20" width="5.67" height="24.65" fill="rgb(255,166,166)"/>
<rect x="565.87" y="190.20" width="5.67" height="24.65" fill="rgb(128,128,255)"/>
<rect x="572.44" y="190.20" width="5.67" height="24.65" fill="rgb(255,199,199)"/>
<rect x="579.01" y="190.20" width="5.67" height="24.65" fill="rgb(255,247,247)"/>
<rect x="585.57" y="190.20" width="5.67" height="24.65" fill="rgb(255,217,217)"/>
<rect x="592.14" y="190.20" width="5.67" height="24.65" fill="rgb(128,128,255)"/>
<rect x="598.71" y="190.20" width="5.67" height="24.65" fill="rgb(255,224,224)"/>
<rect x="303.15" y="215.85" width="5.67" height="24.65" fill="rgb(230,230,255)"/>
<rect x="309.72" y="215.85" width="5.67" height="24.65" fill="rgb(255,245,245)"/>
<rect x="316.29" y="215.85" width="5.67" height="24.65" fill="rgb(247,247,255)"/>
<rect x="322.85" y="215.85" width="5.67" height="24.65" fill="rgb(255,240,240)"/>
<rect x="329.42" y="215.85" width="5.67" height="24.65" fill="rgb(224,224,255)"/>
<rect x="335.99" y="215.85" width="5.67" height="24.65" fill="rgb(247,247,255)"/>
<rect x="342.56" y="215.85" width="5.67" height="24.65" fill="rgb(255,242,242)"/>
<rect x="349.13" y="215.85" width="5.67" height="24.65" fill="rgb(237,237,255)"/>
<rect x="355.69" y="215.85" width="5.67" height="24.65" fill="rgb(247,247,255)"/>
<rect x="362.26" y="215.85" width="5.67" height="24.65" fill="rgb(255,245,245)"/>
<rect x="368.83" y="215.85" width="5.67" height="24.65" fill="rgb(255,153,153)"/>
<rect x="375.40" y="215.85" width="5.67" height="24.65" fill="rgb(255,204,204)"/>
<rect x="381.97" y="215.85" width="5.67" height="24.65" fill="rgb(255,148,148)"/>
<rect x="388.53" y="215.85" width="5.67" height="24.65" fill="rgb(255,153,153)"/>
<rect x="395.10" y="215.85" width="5.67" height="24.65" fill="rgb(255,235,235)"/>
<rect x="401.67" y="215.85" width="5.67" height="24.65" fill="rgb(255,140,140)"/>
<rect x="408.24" y="215.85" width="5.67" height="24.65" fill="rgb(255,230,230)"/>
<rect x="414.81" y="215.85" width="5.67" height="24.65" fill="rgb(255,153,153)"/>
<rect x="421.37" y="215.85" width="5.67" height="24.65" fill="rgb(255,178,178)"/>
<rect x="427.94" y="215.85" width="5.67" height="24.65" fill="rgb(230,230,255)"/>
<rect x="434.51" y="215.85" width="5.67" height="24.65" fill="rgb(255,161,161)"/>
<rect x="441.08" y="215.85" width="5.67" height="24.65" fill="rgb(255,191,191)"/>
<rect x="447.65" y="215.85" width="5.67" height="24.65" fill="rgb(237,237,255)"/>
<rect x="454.21" y="215.85" width="5.67" height="24.65" fill="rgb(255,222,222)"/>
<rect x="460.78" y="215.85" width="5.67" height="24.65" fill="rgb(240,240,255)"/>
<rect x="467.35" y="215.85" width="5.67" height="24.65" fill="rgb(240,240,255)"/>
<rect x="473.92" y="215.85" width="5.67" height="24.65" fill="rgb(204,204,255)"/>
<rect x="480.49" y="215.85" width="5.67" height="24.65" fill="rgb(250,250,255)"/>
<rect x="487.05" y="215.85" width="5.67" height="24.65" fill="rgb(255,247,247)"/>
<rect x="493.62" y="215.85" width="5.67" height="24.65" fill="rgb(240,240,255)"/>
<rect x="500.19" y="215.85" width="5.67" height="24.65" fill="rgb(255,204,204)"/>
<rect x="506.76" y="215.85" width="5.67" height="24.65" fill="rgb(255,230,230)"/>
<rect x="513.33" y="215.85" width="5.67" height="24.65" fill="rgb(255,217,217)"/>
<rect x="519.89" y="215.85" width="5.67" height="24.65" fill="rgb(255,217,217)"/>
<rect x="526.46" y="215.85" width="5.67" height="24.65" fill="rgb(148,148,255)"/>
<rect x="533.03" y="215.85" width="5.67" height="24.65" fill="rgb(153,153,255)"/>
<rect x="539.60" y="215.85" width="5.67" height="24.65" fill="rgb(255,166,166)"/>
<rect x="546.17" y="215.85" width="5.67" height="24.65" fill="rgb(128,128,255)"/>
<rect x="552.73" y="215.85" width="5.67" height="24.65" fill="rgb(128,128,255)"/>
<rect x="559.30" y="215.85" width="5.67" height="24.65" fill="rgb(133,133,255)"/>
<rect x="565.87" y="215.85" width="5.67" height="24.65" fill="rgb(128,128,255)"/>
<rect x="572.44" y="215.85" width="5.67" height="24.65" fill="rgb(255,153,153)"/>
<rect x="579.01" y="215.85" width="5.67" height="24.65" fill="rgb(115,115,255)"/>
<rect x="585.57" y="215.85" width="5.67" height="24.65" fill="rgb(255,250,250)"/>
<rect x="592.14" y="215.85" width="5.67" height="24.65" fill="rgb(102,102,255)"/>
<rect x="598.71" y="215.85" width="5.67" height="24.65" fill="rgb(255,153,153)"/>
<rect x="303.15" y="241.50" width="5.67" height="24.65" fill="rgb(255,242,242)"/>
<rect x="309.72" y="241.50" width="5.67" height="24.65" fill="rgb(212,212,255)"/>
<rect x="316.29" y="241.50" width="5.67" height="24.65" fill="rgb(255,115,115)"/>
<rect x="322.85" y="241.50" width="5.67" height="24.65" fill="rgb(224,224,255)"/>
<rect x="329.42" y="241.50" width="5.67" height="24.65" fill="rgb(255,191,191)"/>
<rect x="335.99" y="241.50" width="5.67" height="24.65" fill="rgb(255,217,217)"/>
<rect x="342.56" y="241.50" width="5.67" height="24.65" fill="rgb(255,230,230)"/>
<rect x="349.13" y="241.50" width="5.67" height="24.65" fill="rgb(255,191,191)"/>
<rect x="355.69" y="241.50" width="5.67" height="24.65" fill="rgb(255,217,217)"/>
<rect x="362.26" y="241.50" width="5.67" height="24.65" fill="rgb(255,230,230)"/>
<rect x="368.83" y="241.50" width="5.67" height="24.65" fill="rgb(184,184,255)"/>
<rect x="375.40" y="241.50" width="5.67" height="24.65" fill="rgb(158,158,255)"/>
<rect x="381.97" y="241.50" width="5.67" height="24.65" fill="rgb(255,166,166)"/>
<rect x="388.53" y="241.50" width="5.67" height="24.65" fill="rgb(255,250,250)"/>
<rect x="395.10" y="241.50" width="5.67" height="24.65" fill="rgb(255,128,128)"/>
<rect x="401.67" y="241.50" width="5.67" height="24.65" fill="rgb(255,230,230)"/>
<rect x="408.24" y="241.50" width="5.67" height="24.65" fill="rgb(255,158,158)"/>
<rect x="414.81" y="241.50" width="5.67" height="24.65" fill="rgb(255,191,191)"/>
<rect x="421.37" y="241.50" width="5.67" height="24.65" fill="rgb(171,171,255)"/>
<rect x="427.94" y="241.50" width="5.67" height="24.65" fill="rgb(255,237,237)"/>
<rect x="434.51" y="241.50" width="5.67" height="24.65" fill="rgb(224,224,255)"/>
<rect x="441.08" y="241.50" width="5.67" height="24.65" fill="rgb(255,140,140)"/>
<rect x="447.65" y="241.50" width="5.67" height="24.65" fill="rgb(255,140,140)"/>
<rect x="454.21" y="241.50" width="5.67" height="24.65" fill="rgb(255,135,135)"/>
<rect x="460.78" y="241.50" width="5.67" height="24.65" fill="rgb(255,204,204)"/>
<rect x="467.35" y="241.50" width="5.67" height="24.65" fill="rgb(191,191,255)"/>
<rect x="473.92" y="241.50" width="5.67" height="24.65" fill="rgb(191,191,255)"/>
<rect x="480.49" y="241.50" width="5.67" height="24.65" fill="rgb(255,247,247)"/>
<rect x="487.05" y="241.50" width="5.67" height="24.65" fill="rgb(178,178,255)"/>
<rect x="493.62" y="241.50" width="5.67" height="24.65" fill="rgb(199,199,255)"/>
<rect x="500.19" y="241.50" width="5.67" height="24.65" fill="rgb(255,178,178)"/>
<rect x="506.76" y="241.50" width="5.67" height="24.65" fill="rgb(240,240,255)"/>
<rect x="513.33" y="241.50" width="5.67" height="24.65" fill="rgb(184,184,255)"/>
<rect x="519.89" y="241.50" width="5.67" height="24.65" fill="rgb(199,199,255)"/>
<rect x="526.46" y="241.50" width="5.67" height="24.65" fill="rgb(250,250,255)"/>
<rect x="533.03" y="241.50" width="5.67" height="24.65" fill="rgb(255,128,128)"/>
<rect x="539.60" y="241.50" width="5.67" height="24.65" fill="rgb(255,171,171)"/>
<rect x="546.17" y="241.50" width="5.67" height="24.65" fill="rgb(178,178,255)"/>
<rect x="552.73" y="241.50" width="5.67" height="24.65" fill="rgb(191,191,255)"/>
<rect x="559.30" y="241.50" width="5.67" height="24.65" fill="rgb(158,158,255)"/>
<rect x="565.87" y="241.50" width="5.67" height="24.65" fill="rgb(255,235,235)"/>
<rect x="572.44" y="241.50" width="5.67" height="24.65" fill="rgb(224,224,255)"/>
<rect x="579.01" y="241.50" width="5.67" height="24.65" fill="rgb(184,184,255)"/>
<rect x="585.57" y="241.50" width="5.67" height="24.65" fill="rgb(171,171,255)"/>
<rect x="592.14" y="241.50" width="5.67" height="24.65" fill="rgb(191,191,255)"/>
<rect x="598.71" y="241.50" width="5.67" height="24.65" fill="rgb(140,140,255)"/>
<rect x="303.15" y="267.15" width="5.67" height="24.65" fill="rgb(255,166,166)"/>
<rect x="309.72" y="267.15" width="5.67" height="24.65" fill="rgb(255,178,178)"/>
<rect x="316.29" y="267.15" width="5.67" height="24.65" fill="rgb(237,237,255)"/>
<rect x="322.85" y="267.15" width="5.67" height="24.65" fill="rgb(255,204,204)"/>
<rect x="329.42" y="267.15" width="5.67" height="24.65" fill="rgb(255,178,178)"/>
<rect x="335.99" y="267.15" width="5.67" height="24.65" fill="rgb(255,235,235)"/>
<rect x="342.56" y="267.15" width="5.67" height="24.65" fill="rgb(204,204,255)"/>
<rect x="349.13" y="267.15" width="5.67" height="24.65" fill="rgb(217,217,255)"/>
<rect x="355.69" y="267.15" width="5.67" height="24.65" fill="rgb(255,237,237)"/>
<rect x="362.26" y="267.15" width="5.67" height="24.65" fill="rgb(255,224,224)"/>
<rect x="368.83" y="267.15" width="5.67" height="24.65" fill="rgb(255,191,191)"/>
<rect x="375.40" y="267.15" width="5.67" height="24.65" fill="rgb(230,230,255)"/>
<rect x="381.97" y="267.15" width="5.67" height="24.65" fill="rgb(255,191,191)"/>
<rect x="388.53" y="267.15" width="5.67" height="24.65" fill="rgb(255,166,166)"/>
<rect x="395.10" y="267.15" width="5.67" height="24.65" fill="rgb(102,102,255)"/>
<rect x="401.67" y="267.15" width="5.67" height="24.65" fill="rgb(255,153,153)"/>
<rect x="408.24" y="267.15" width="5.67" height="24.65" fill="rgb(255,191,191)"/>
<rect x="414.81" y="267.15" width="5.67" height="24.65" fill="rgb(255,199,199)"/>
<rect x="421.37" y="267.15" width="5.67" height="24.65" fill="rgb(255,237,237)"/>
<rect x="427.94" y="267.15" width="5.67" height="24.65" fill="rgb(255,178,178)"/>
<rect x="434.51" y="267.15" width="5.67" height="24.65" fill="rgb(255,153,153)"/>
<rect x="441.08" y="267.15" width="5.67" height="24.65" fill="rgb(255,222,222)"/>
<rect x="447.65" y="267.15" width="5.67" height="24.65" fill="rgb(255,178,178)"/>
<rect x="454.21" y="267.15" width="5.67" height="24.65" fill="rgb(255,173,173)"/>
<rect x="460.78" y="267.15" width="5.67" height="24.65" fill="rgb(255,237,237)"/>
<rect x="467.35" y="267.15" width="5.67" height="24.65" fill="rgb(204,204,255)"/>
<rect x="473.92" y="267.15" width="5.67" height="24.65" fill="rgb(255,247,247)"/>
<rect x="480.49" y="267.15" width="5.67" height="24.65" fill="rgb(255,230,230)"/>
<rect x="487.05" y="267.15" width="5.67" height="24.65" fill="rgb(171,171,255)"/>
<rect x="493.62" y="267.15" width="5.67" height="24.65" fill="rgb(204,204,255)"/>
<rect x="500.19" y="267.15" width="5.67" height="24.65" fill="rgb(255,245,245)"/>
<rect x="506.76" y="267.15" width="5.67" height="24.65" fill="rgb(212,212,255)"/>
<rect x="513.33" y="267.15" width="5.67" height="24.65" fill="rgb(255,217,217)"/>
<rect x="519.89" y="267.15" width="5.67" height="24.65" fill="rgb(199,199,255)"/>
<rect x="526.46" y="267.15" width="5.67" height="24.65" fill="rgb(255,173,173)"/>
<rect x="533.03" y="267.15" width="5.67" height="24.65" fill="rgb(255,224,224)"/>
<rect x="539.60" y="267.15" width="5.67" height="24.65" fill="rgb(178,178,255)"/>
<rect x="546.17" y="267.15" width="5.67" height="24.65" fill="rgb(115,115,255)"/>
<rect x="552.73" y="267.15" width="5.67" height="24.65" fill="rgb(247,247,255)"/>
<rect x="559.30" y="267.15" width="5.67" height="24.65" fill="rgb(255,191,191)"/>
<rect x="565.87" y="267.15" width="5.67" height="24.65" fill="rgb(240,240,255)"/>
<rect x="572.44" y="267.15" width="5.67" height="24.65" fill="rgb(178,178,255)"/>
<rect x="579.01" y="267.15" width="5.67" height="24.65" fill="rgb(255,166,166)"/>
<rect x="585.57" y="267.15" width="5.67" height="24.65" fill="rgb(102,102,255)"/>
<rect x="592.14" y="267.15" width="5.67" height="24.65" fill="rgb(115,115,255)"/>
<rect x="598.71" y="267.15" width="5.67" height="24.65" fill="rgb(166,166,255)"/>
<rect x="303.15" y="292.80" width="5.67" height="24.65" fill="rgb(255,235,235)"/>
<rect x="309.72" y="292.80" width="5.67" height="24.65" fill="rgb(255,247,247)"/>
<rect x="316.29" y="292.80" width="5.67" height="24.65" fill="rgb(247,247,255)"/>
<rect x="322.85" y="292.80" width="5.67" height="24.65" fill="rgb(250,250,255)"/>
<rect x="329.42" y="292.80" width="5.67" height="24.65" fill="rgb(255,140,140)"/>
<rect x="335.99" y="292.80" width="5.67" height="24.65" fill="rgb(255,247,247)"/>
<rect x="342.56" y="292.80" width="5.67" height="24.65" fill="rgb(255,237,237)"/>
<rect x="349.13" y="292.80" width="5.67" height="24.65" fill="rgb(255,128,128)"/>
<rect x="355.69" y="292.80" width="5.67" height="24.65" fill="rgb(255,247,247)"/>
<rect x="362.26" y="292.80" width="5.67" height="24.65" fill="rgb(230,230,255)"/>
<rect x="368.83" y="292.80" width="5.67" height="24.65" fill="rgb(255,191,191)"/>
<rect x="375.40" y="292.80" width="5.67" height="24.65" fill="rgb(255,204,204)"/>
<rect x="381.97" y="292.80" width="5.67" height="24.65" fill="rgb(255,178,178)"/>
<rect x="388.53" y="292.80" width="5.67" height="24.65" fill="rgb(237,237,255)"/>
<rect x="395.10" y="292.80" width="5.67" height="24.65" fill="rgb(166,166,255)"/>
<rect x="401.67" y="292.80" width="5.67" height="24.65" fill="rgb(255,191,191)"/>
<rect x="408.24" y="292.80" width="5.67" height="24.65" fill="rgb(102,102,255)"/>
<rect x="414.81" y="292.80" width="5.67" height="24.65" fill="rgb(255,204,204)"/>
<rect x="421.37" y="292.80" width="5.67" height="24.65" fill="rgb(255,178,178)"/>
<rect x="427.94" y="292.80" width="5.67" height="24.65" fill="rgb(178,178,255)"/>
<rect x="434.51" y="292.80" width="5.67" height="24.65" fill="rgb(247,247,255)"/>
<rect x="441.08" y="292.80" width="5.67" height="24.65" fill="rgb(255,224,224)"/>
<rect x="447.65" y="292.80" width="5.67" height="24.65" fill="rgb(255,148,148)"/>
<rect x="454.21" y="292.80" width="5.67" height="24.65" fill="rgb(255,122,122)"/>
<rect x="460.78" y="292.80" width="5.67" height="24.65" fill="rgb(255,166,166)"/>
<rect x="467.35" y="292.80" width="5.67" height="24.65" fill="rgb(102,102,255)"/>
<rect x="473.92" y="292.80" width="5.67" height="24.65" fill="rgb(178,178,255)"/>
<rect x="480.49" y="292.80" width="5.67" height="24.65" fill="rgb(255,247,247)"/>
<rect x="487.05" y="292.80" width="5.67" height="24.65" fill="rgb(199,199,255)"/>
<rect x="493.62" y="292.80" width="5.67" height="24.65" fill="rgb(204,204,255)"/>
<rect x="500.19" y="292.80" width="5.67" height="24.65" fill="rgb(255,235,235)"/>
<rect x="506.76" y="292.80" width="5.67" height="24.65" fill="rgb(255,224,224)"/>
<rect x="513.33" y="292.80" width="5.67" height="24.65" fill="rgb(224,224,255)"/>
<rect x="519.89" y="292.80" width="5.67" height="24.65" fill="rgb(235,235,255)"/>
<rect x="526.46" y="292.80" width="5.67" height="24.65" fill="rgb(255,166,166)"/>
<rect x="533.03" y="292.80" width="5.67" height="24.65" fill="rgb(255,173,173)"/>
<rect x="539.60" y="292.80" width="5.67" height="24.65" fill="rgb(153,153,255)"/>
<rect x="546.17" y="292.80" width="5.67" height="24.65" fill="rgb(166,166,255)"/>
<rect x="552.73" y="292.80" width="5.67" height="24.65" fill="rgb(255,237,237)"/>
<rect x="559.30" y="292.80" width="5.67" height="24.65" fill="rgb(204,204,255)"/>
<rect x="565.87" y="292.80" width="5.67" height="24.65" fill="rgb(204,204,255)"/>
<rect x="572.44" y="292.80" width="5.67" height="24.65" fill="rgb(153,153,255)"/>
<rect x="579.01" y="292.80" width="5.67" height="24.65" fill="rgb(240,240,255)"/>
<rect x="585.57" y="292.80" width="5.67" height="24.65" fill="rgb(240,240,255)"/>
<rect x="592.14" y="292.80" width="5.67" height="24.65" fill="rgb(250,250,255)"/>
<rect x="598.71" y="292.80" width="5.67" height="24.65" fill="rgb(255,166,166)"/>
<rect x="303.15" y="318.45" width="5.67" height="24.65" fill="rgb(237,237,255)"/>
<rect x="309.72" y="318.45" width="5.67" height="24.65" fill="rgb(224,224,255)"/>
<rect x="316.29" y="318.45" width="5.67" height="24.65" fill="rgb(237,237,255)"/>
<rect x="322.85" y="318.45" width="5.67" height="24.65" fill="rgb(240,240,255)"/>
<rect x="329.42" y="318.45" width="5.67" height="24.65" fill="rgb(255,31,31)"/>
<rect x="335.99" y="318.45" width="5.67" height="24.65" fill="rgb(217,217,255)"/>
<rect x="342.56" y="318.45" width="5.67" height="24.65" fill="rgb(217,217,255)"/>
<rect x="349.13" y="318.45" width="5.67" height="24.65" fill="rgb(255,115,115)"/>
<rect x="355.69" y="318.45" width="5.67" height="24.65" fill="rgb(237,237,255)"/>
<rect x="362.26" y="318.45" width="5.67" height="24.65" fill="rgb(230,230,255)"/>
<rect x="368.83" y="318.45" width="5.67" height="24.65" fill="rgb(255,178,178)"/>
<rect x="375.40" y="318.45" width="5.67" height="24.65" fill="rgb(255,191,191)"/>
<rect x="381.97" y="318.45" width="5.67" height="24.65" fill="rgb(255,199,199)"/>
<rect x="388.53" y="318.45" width="5.67" height="24.65" fill="rgb(255,224,224)"/>
<rect x="395.10" y="318.45" width="5.67" height="24.65" fill="rgb(166,166,255)"/>
<rect x="401.67" y="318.45" width="5.67" height="24.65" fill="rgb(255,178,178)"/>
<rect x="408.24" y="318.45" width="5.67" height="24.65" fill="rgb(153,153,255)"/>
<rect x="414.81" y="318.45" width="5.67" height="24.65" fill="rgb(255,224,224)"/>
<rect x="421.37" y="318.45" width="5.67" height="24.65" fill="rgb(255,178,178)"/>
<rect x="427.94" y="318.45" width="5.67" height="24.65" fill="rgb(178,178,255)"/>
<rect x="434.51" y="318.45" width="5.67" height="24.65" fill="rgb(217,217,255)"/>
<rect x="441.08" y="318.45" width="5.67" height="24.65" fill="rgb(255,224,224)"/>
<rect x="447.65" y="318.45" width="5.67" height="24.65" fill="rgb(255,173,173)"/>
<rect x="454.21" y="318.45" width="5.67" height="24.65" fill="rgb(255,135,135)"/>
<rect x="460.78" y="318.45" width="5.67" height="24.65" fill="rgb(255,158,158)"/>
<rect x="467.35" y="318.45" width="5.67" height="24.65" fill="rgb(204,204,255)"/>
<rect x="473.92" y="318.45" width="5.67" height="24.65" fill="rgb(212,212,255)"/>
<rect x="480.49" y="318.45" width="5.67" height="24.65" fill="rgb(255,247,247)"/>
<rect x="487.05" y="318.45" width="5.67" height="24.65" fill="rgb(212,212,255)"/>
<rect x="493.62" y="318.45" width="5.67" height="24.65" fill="rgb(224,224,255)"/>
<rect x="500.19" y="318.45" width="5.67" height="24.65" fill="rgb(237,237,255)"/>
<rect x="506.76" y="318.45" width="5.67" height="24.65" fill="rgb(230,230,255)"/>
<rect x="513.33" y="318.45" width="5.67" height="24.65" fill="rgb(224,224,255)"/>
<rect x="519.89" y="318.45" width="5.67" height="24.65" fill="rgb(224,224,255)"/>
<rect x="526.46" y="318.45" width="5.67" height="24.65" fill="rgb(255,191,191)"/>
<rect x="533.03" y="318.45" width="5.67" height="24.65" fill="rgb(255,178,178)"/>
<rect x="539.60" y="318.45" width="5.67" height="24.65" fill="rgb(191,191,255)"/>
<rect x="546.17" y="318.45" width="5.67" height="24.65" fill="rgb(153,153,255)"/>
<rect x="552.73" y="318.45" width="5.67" height="24.65" fill="rgb(255,217,217)"/>
<rect x="559.30" y="318.45" width="5.67" height="24.65" fill="rgb(178,178,255)"/>
<rect x="565.87" y="318.45" width="5.67" height="24.65" fill="rgb(178,178,255)"/>
<rect x="572.44" y="318.45" width="5.67" height="24.65" fill="rgb(178,178,255)"/>
<rect x="579.01" y="318.45" width="5.67" height="24.65" fill="rgb(255,191,191)"/>
<rect x="585.57" y="318.45" width="5.67" height="24.65" fill="rgb(217,217,255)"/>
<rect x="592.14" y="318.45" width="5.67" height="24.65" fill="rgb(204,204,255)"/>
<rect x="598.71" y="318.45" width="5.67" height="24.65" fill="rgb(255,191,191)"/>
<path d="M282.50 48.62L282.50 74.27 M282.50 48.62L302.70 48.62 M282.50 74.27L302.70 74.27 M292.70 125.57L292.70 151.22 M292.70 125.57L302.70 125.57 M292.70 151.22L302.70 151.22 M290.50 99.92L290.50 138.40 M290.50 99.92L302.70 99.92 M290.50 138.40L292.70 138.40 M287.70 176.88L287.70 202.52 M287.70 176.88L302.70 176.88 M287.70 202.52L302.70 202.52 M285.00 119.16L285.00 189.70 M285.00 119.16L290.50 119.16 M285.00 189.70L287.70 189.70 M293.60 305.12L293.60 330.77 M293.60 305.12L302.70 305.12 M293.60 330.77L302.70 330.77 M283.40 279.47L283.40 317.95 M283.40 279.47L302.70 279.47 M283.40 317.95L293.60 317.95 M281.00 253.82L281.00 298.71 M281.00 253.82L302.70 253.82 M281.00 298.71L283.40 298.71 M280.00 228.18L280.00 276.27 M280.00 228.18L302.70 228.18 M280.00 276.27L281.00 276.27 M279.00 154.43L279.00 252.22 M279.00 154.43L285.00 154.43 M279.00 252.22L280.00 252.22 M273.00 61.45L273.00 203.33 M273.00 61.45L282.50 61.45 M273.00 203.33L279.00 203.33" stroke="#4a4a4a" stroke-width="0.9" fill="none" stroke-linecap="square"/>
<text x="607.10" y="26.60" font-family='"Liberation Sans", sans-serif' font-size="5.0" fill="#000" text-anchor="start" font-weight="bold" textLength="10.10" lengthAdjust="spacingAndGlyphs" >Type</text>
<text x="607.10" y="33.00" font-family='"Liberation Sans", sans-serif' font-size="5.0" fill="#000" text-anchor="start" font-weight="bold" textLength="15.20" lengthAdjust="spacingAndGlyphs" >Project</text>
<text x="607.10" y="50.23" font-family='"Liberation Sans", sans-serif' font-size="4.3" fill="#111" text-anchor="start" font-weight="normal" textLength="13.15" lengthAdjust="spacingAndGlyphs" >LGALS4</text>
<text x="607.10" y="75.87" font-family='"Liberation Sans", sans-serif' font-size="4.3" fill="#111" text-anchor="start" font-weight="normal" textLength="24.57" lengthAdjust="spacingAndGlyphs" >LOC100506736</text>
<text x="607.10" y="101.52" font-family='"Liberation Sans", sans-serif' font-size="4.3" fill="#111" text-anchor="start" font-weight="normal" textLength="11.22" lengthAdjust="spacingAndGlyphs" >KLRC1</text>
<text x="607.10" y="127.17" font-family='"Liberation Sans", sans-serif' font-size="4.3" fill="#111" text-anchor="start" font-weight="normal" textLength="6.77" lengthAdjust="spacingAndGlyphs" >IL32</text>
<text x="607.10" y="152.82" font-family='"Liberation Sans", sans-serif' font-size="4.3" fill="#111" text-anchor="start" font-weight="normal" textLength="10.83" lengthAdjust="spacingAndGlyphs" >KLRF1</text>
<text x="607.10" y="178.47" font-family='"Liberation Sans", sans-serif' font-size="4.3" fill="#111" text-anchor="start" font-weight="normal" textLength="9.47" lengthAdjust="spacingAndGlyphs" >CCR5</text>
<text x="607.10" y="204.12" font-family='"Liberation Sans", sans-serif' font-size="4.3" fill="#111" text-anchor="start" font-weight="normal" textLength="10.05" lengthAdjust="spacingAndGlyphs" >GZMK</text>
<text x="607.10" y="229.78" font-family='"Liberation Sans", sans-serif' font-size="4.3" fill="#111" text-anchor="start" font-weight="normal" textLength="12.76" lengthAdjust="spacingAndGlyphs" >ZFP69B</text>
<text x="607.10" y="255.42" font-family='"Liberation Sans", sans-serif' font-size="4.3" fill="#111" text-anchor="start" font-weight="normal" textLength="7.54" lengthAdjust="spacingAndGlyphs" >GLI1</text>
<text x="607.10" y="281.07" font-family='"Liberation Sans", sans-serif' font-size="4.3" fill="#111" text-anchor="start" font-weight="normal" textLength="11.61" lengthAdjust="spacingAndGlyphs" >KIF13A</text>
<text x="607.10" y="306.73" font-family='"Liberation Sans", sans-serif' font-size="4.3" fill="#111" text-anchor="start" font-weight="normal" textLength="18.37" lengthAdjust="spacingAndGlyphs" >TMEM176A</text>
<text x="607.10" y="332.38" font-family='"Liberation Sans", sans-serif' font-size="4.3" fill="#111" text-anchor="start" font-weight="normal" textLength="18.37" lengthAdjust="spacingAndGlyphs" >TMEM176B</text>
<defs><linearGradient id="cb" x1="0" y1="0" x2="0" y2="1"><stop offset="0" stop-color="#ff0000"/><stop offset="0.5" stop-color="#ffffff"/><stop offset="1" stop-color="#0000ff"/></linearGradient></defs>
<rect x="635.1" y="21.7" width="5.9" height="97.5" fill="url(#cb)"/>
<text x="643.10" y="33.00" font-family='"Liberation Sans", sans-serif' font-size="5.6" fill="#000" text-anchor="start" font-weight="normal" textLength="2.50" lengthAdjust="spacingAndGlyphs"  stroke="#000" stroke-width="0.1">3</text>
<text x="643.10" y="46.40" font-family='"Liberation Sans", sans-serif' font-size="5.6" fill="#000" text-anchor="start" font-weight="normal" textLength="2.50" lengthAdjust="spacingAndGlyphs"  stroke="#000" stroke-width="0.1">2</text>
<text x="643.10" y="59.60" font-family='"Liberation Sans", sans-serif' font-size="5.6" fill="#000" text-anchor="start" font-weight="normal" textLength="2.50" lengthAdjust="spacingAndGlyphs"  stroke="#000" stroke-width="0.1">1</text>
<text x="643.10" y="72.90" font-family='"Liberation Sans", sans-serif' font-size="5.6" fill="#000" text-anchor="start" font-weight="normal" textLength="2.50" lengthAdjust="spacingAndGlyphs"  stroke="#000" stroke-width="0.1">0</text>
<text x="643.10" y="86.30" font-family='"Liberation Sans", sans-serif' font-size="5.6" fill="#000" text-anchor="start" font-weight="normal" textLength="5.13" lengthAdjust="spacingAndGlyphs"  stroke="#000" stroke-width="0.1">&#8722;1</text>
<text x="643.10" y="99.60" font-family='"Liberation Sans", sans-serif' font-size="5.6" fill="#000" text-anchor="start" font-weight="normal" textLength="5.13" lengthAdjust="spacingAndGlyphs"  stroke="#000" stroke-width="0.1">&#8722;2</text>
<text x="643.10" y="112.40" font-family='"Liberation Sans", sans-serif' font-size="5.6" fill="#000" text-anchor="start" font-weight="normal" textLength="5.13" lengthAdjust="spacingAndGlyphs"  stroke="#000" stroke-width="0.1">&#8722;3</text>
<text x="649.10" y="25.20" font-family='"Liberation Sans", sans-serif' font-size="5.0" fill="#000" text-anchor="start" font-weight="bold" textLength="10.20" lengthAdjust="spacingAndGlyphs" >Type</text>
<rect x="649.0" y="27.0" width="6.4" height="7.6" fill="#00d6dc" stroke="#aaa" stroke-width="0.4"/>
<rect x="649.0" y="34.6" width="6.4" height="7.6" fill="#dc93f8" stroke="#aaa" stroke-width="0.4"/>
<text x="656.90" y="32.90" font-family='"Liberation Sans", sans-serif' font-size="5.3" fill="#000" text-anchor="start" font-weight="normal" textLength="14.70" lengthAdjust="spacingAndGlyphs"  stroke="#000" stroke-width="0.1">Control</text>
<text x="656.90" y="40.50" font-family='"Liberation Sans", sans-serif' font-size="5.3" fill="#000" text-anchor="start" font-weight="normal" textLength="10.50" lengthAdjust="spacingAndGlyphs"  stroke="#000" stroke-width="0.1">Treat</text>
<text x="649.10" y="51.50" font-family='"Liberation Sans", sans-serif' font-size="5.0" fill="#000" text-anchor="start" font-weight="bold" textLength="15.30" lengthAdjust="spacingAndGlyphs" >Project</text>
<rect x="649.0" y="53.3" width="6.4" height="7.3" fill="#96c800" stroke="#aaa" stroke-width="0.4"/>
<rect x="649.0" y="60.6" width="6.4" height="7.3" fill="#ff8d84" stroke="#aaa" stroke-width="0.4"/>
<text x="656.90" y="59.00" font-family='"Liberation Sans", sans-serif' font-size="5.3" fill="#000" text-anchor="start" font-weight="normal" textLength="22.40" lengthAdjust="spacingAndGlyphs"  stroke="#000" stroke-width="0.1">GSE13850</text>
<text x="656.90" y="66.30" font-family='"Liberation Sans", sans-serif' font-size="5.3" fill="#000" text-anchor="start" font-weight="normal" textLength="19.82" lengthAdjust="spacingAndGlyphs"  stroke="#000" stroke-width="0.1">GSE7158</text>
</svg>
</body></html>
